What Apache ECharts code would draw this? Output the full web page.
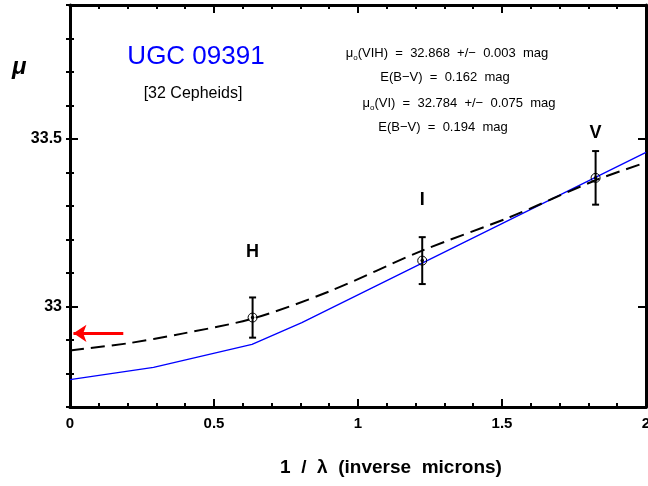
<!DOCTYPE html>
<html>
<head>
<meta charset="utf-8">
<script src="https://cdn.jsdelivr.net/npm/echarts@6/dist/echarts.min.js"></script>
<style>
  html, body { margin: 0; padding: 0; background: #fff; }
  #chart { width: 648px; height: 486px; }
</style>
</head>
<body>
<div id="chart"></div>
<script>
// measured distance moduli per band
const bandNames = ['H', 'I', 'V'];
const bandX = [0.634, 1.223, 1.825];
const bandY = [32.967, 33.137, 33.384];
const bandErr = [0.06, 0.07, 0.08];
const bandLabelY = [33.164, 33.319, 33.519];

// extinction curve fit, VIH (dashed)
const curveX = [0, 0.2, 0.39, 0.634, 0.9, 1.223, 1.525, 1.825, 2.0];
const curveY = [32.869, 32.89, 32.919, 32.964, 33.045, 33.167, 33.266, 33.377, 33.43];

// extinction curve fit, VI (blue)
const fitX = [0, 0.29, 0.632, 0.805, 2.0];
const fitY = [32.782, 32.818, 32.887, 32.952, 33.46];

// red arrow (start, end) at mu level
const arrowX = [0.185, 0.012];
const arrowY = 32.92;

const yTicks = [33, 33.5];

const font = '"Liberation Sans", Arial, sans-serif';

let myChart = echarts.init(document.getElementById('chart'));

const zip = (xs, ys) => xs.map((x, i) => [x, ys[i]]);

// x axis: bottom with labels, top as frame
const makeX = (pos, showLabel) => ({
	type: 'value', position: pos, min: 0, max: 2, interval: 0.5,
	axisLine: { show: true, onZero: false, lineStyle: { color: '#000', width: 3 } },
	axisTick: { show: true, inside: true, length: 8, lineStyle: { color: '#000', width: 2 } },
	minorTick: { show: true, splitNumber: 5, length: 4, lineStyle: { color: '#000', width: 2 } },
	axisLabel: {
		show: showLabel, margin: 9, color: '#000', fontFamily: font, fontWeight: 'bold', fontSize: 15,
		formatter: v => String(v)
	},
	splitLine: { show: false }, minorSplitLine: { show: false }
});

// y axis: major ticks via customValues, minor via second axis
const makeYMajor = (pos, showLabel) => ({
	type: 'value', position: pos, min: 32.7, max: 33.9,
	axisLine: { show: true, onZero: false, lineStyle: { color: '#000', width: 3 } },
	axisTick: { show: true, inside: true, length: 8, customValues: yTicks, lineStyle: { color: '#000', width: 2 } },
	axisLabel: {
		show: showLabel, customValues: yTicks, margin: 8, color: '#000', fontFamily: font, fontWeight: 'bold', fontSize: 16,
		formatter: v => String(v)
	},
	splitLine: { show: false }
});
const makeYMinor = (pos) => ({
	type: 'value', position: pos, min: 32.7, max: 33.9, interval: 0.1,
	axisLine: { show: false },
	axisTick: { show: true, inside: true, length: 4, lineStyle: { color: '#000', width: 2 } },
	axisLabel: { show: false },
	splitLine: { show: false }
});

const richSub = {
	a: { fontFamily: font, fontSize: 13, fill: '#000' },
	b: { fontFamily: font, fontSize: 8, fill: '#000', padding: [9, 0, 0, 0] }
};

myChart.setOption({
	backgroundColor: '#fff',
	animation: false,
	grid: { left: 70, right: 2, top: 5, bottom: 79, containLabel: false, outerBoundsMode: 'none' },
	xAxis: [makeX('bottom', true), makeX('top', false)],
	yAxis: [makeYMajor('left', true), makeYMajor('right', false), makeYMinor('left'), makeYMinor('right')],
	graphic: [
		{ type: 'text', left: 12, top: 55, style: { text: 'μ', fontFamily: font, fontSize: 24, fontWeight: 'bold', fontStyle: 'italic', fill: '#000' } },
		{ type: 'text', x: 196, y: 57, style: { text: 'UGC 09391', fontFamily: font, fontSize: 26, fill: '#0000ff', align: 'center', verticalAlign: 'middle' } },
		{ type: 'text', x: 193, y: 94, style: { text: '[32 Cepheids]', fontFamily: font, fontSize: 16, fill: '#000', align: 'center', verticalAlign: 'middle' } },
		{ type: 'text', x: 447, y: 53, style: {
			text: '{a|μ}{b|o}{a|(VIH)  =  32.868  +/−  0.003  mag}', align: 'center', verticalAlign: 'middle', rich: richSub
		} },
		{ type: 'text', x: 445, y: 77, style: { text: 'E(B−V)  =  0.162  mag', fontFamily: font, fontSize: 13, fill: '#000', align: 'center', verticalAlign: 'middle' } },
		{ type: 'text', x: 459, y: 103, style: {
			text: '{a|μ}{b|o}{a|(VI)  =  32.784  +/−  0.075  mag}', align: 'center', verticalAlign: 'middle', rich: richSub
		} },
		{ type: 'text', x: 443, y: 127, style: { text: 'E(B−V)  =  0.194  mag', fontFamily: font, fontSize: 13, fill: '#000', align: 'center', verticalAlign: 'middle' } },
		{ type: 'text', x: 391, y: 468, style: { text: '1  /  λ  (inverse  microns)', fontFamily: font, fontSize: 19, fontWeight: 'bold', fill: '#000', align: 'center', verticalAlign: 'middle' } }
	],
	series: [
		{
			name: 'VI fit', type: 'line', data: zip(fitX, fitY), showSymbol: false, symbol: 'none',
			lineStyle: { color: '#0000ff', width: 1.3 }, z: 2
		},
		{
			name: 'VIH fit', type: 'line', data: zip(curveX, curveY), showSymbol: false, symbol: 'none', smooth: 0.3,
			lineStyle: { color: '#000', width: 2, type: [14, 7] }, z: 3
		},
		{
			name: 'error', type: 'custom', z: 4,
			data: bandX.map((x, i) => [x, bandY[i], bandErr[i]]),
			renderItem: (params, api) => {
				let x = api.value(0), y = api.value(1), e = api.value(2);
				let top = api.coord([x, y + e]);
				let bot = api.coord([x, y - e]);
				let hw = 3.5;
				let st = { stroke: '#000', lineWidth: 2 };
				return {
					type: 'group',
					children: [
						{ type: 'line', shape: { x1: top[0], y1: top[1], x2: bot[0], y2: bot[1] }, style: st },
						{ type: 'line', shape: { x1: top[0] - hw, y1: top[1], x2: top[0] + hw, y2: top[1] }, style: st },
						{ type: 'line', shape: { x1: bot[0] - hw, y1: bot[1], x2: bot[0] + hw, y2: bot[1] }, style: st }
					]
				};
			}
		},
		{
			name: 'points', type: 'scatter', data: zip(bandX, bandY), symbol: 'circle', symbolSize: 9, z: 5,
			itemStyle: { color: 'rgba(255,255,255,0)', borderColor: '#000', borderWidth: 1, opacity: 1 }
		},
		{
			name: 'dots', type: 'scatter', data: zip(bandX, bandY), symbol: 'circle', symbolSize: 3.5, z: 6,
			itemStyle: { color: '#000', opacity: 1 }
		},
		{
			name: 'bands', type: 'scatter', data: bandX.map((x, i) => ({ value: [x, bandLabelY[i]], name: bandNames[i] })),
			symbolSize: 1, silent: true, itemStyle: { color: 'rgba(0,0,0,0)', opacity: 1 },
			label: { show: true, position: 'inside', formatter: p => p.name, color: '#000', fontFamily: font, fontWeight: 'bold', fontSize: 18 }
		},
		{
			name: 'arrow', type: 'line', data: [], silent: true,
			markLine: {
				silent: true, animation: false,
				symbol: ['none', 'arrow'], symbolSize: 13,
				label: { show: false },
				lineStyle: { color: '#ff0000', width: 3, type: 'solid' },
				data: [[{ coord: [arrowX[0], arrowY] }, { coord: [arrowX[1], arrowY] }]]
			}
		}
	]
});
</script>
</body>
</html>
